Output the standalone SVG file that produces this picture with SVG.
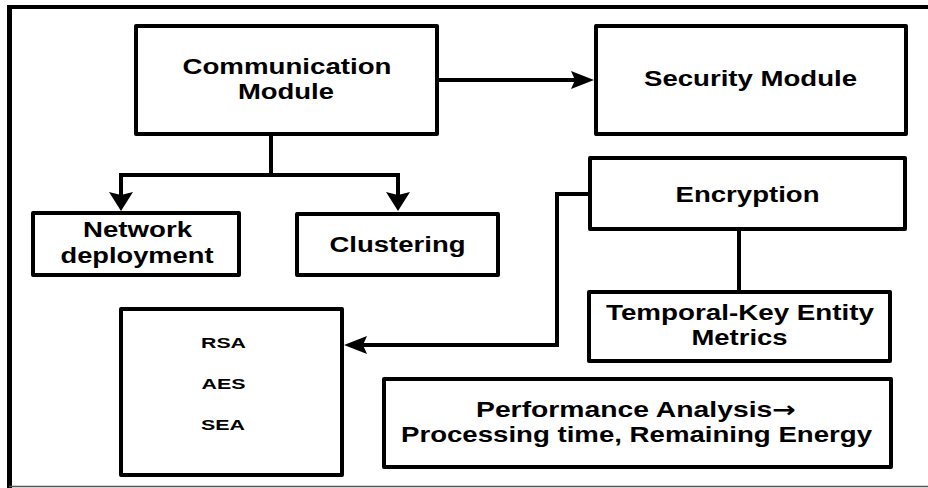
<svg xmlns="http://www.w3.org/2000/svg" width="928" height="488" viewBox="0 0 928 488">
<style>
.box{fill:#fff;stroke:#000;stroke-width:4;stroke-linejoin:round}
.t{font-family:"Liberation Sans",Arial,sans-serif;font-weight:bold;font-size:22px;fill:#000;text-anchor:middle}
.s{font-size:15px}
.ar{font-family:"DejaVu Sans",sans-serif;font-weight:bold}
.c{fill:none;stroke:#000;stroke-width:4;stroke-linejoin:miter}
</style>
<defs>
<marker id="ah" markerUnits="userSpaceOnUse" markerWidth="24" markerHeight="19" refX="4" refY="9" orient="auto" overflow="visible">
<path d="M0,0 L23,9 L0,18 L4,9 Z" fill="#000"/>
</marker>
<marker id="av" markerUnits="userSpaceOnUse" markerWidth="20" markerHeight="25" refX="3" refY="12" orient="auto" overflow="visible">
<path d="M0,0 L19,12 L0,24 L3,12 Z" fill="#000"/>
</marker>
</defs>
<rect width="928" height="488" fill="#fff"/>
<g id="frame">
<line x1="7" y1="7" x2="928" y2="7" stroke="#000" stroke-width="4"/>
<line x1="9.5" y1="5" x2="9.5" y2="488" stroke="#000" stroke-width="5"/>
<line x1="9" y1="486.5" x2="928" y2="486.5" stroke="#555" stroke-width="1.5"/>
</g>
<g id="connectors">
<line class="c" x1="439" y1="80" x2="575" y2="80" marker-end="url(#ah)"/>
<line class="c" x1="271" y1="136" x2="271" y2="175"/>
<polyline class="c" points="121,195 121,175 398,175 398,195"/>
<line class="c" x1="121" y1="177" x2="121" y2="195" marker-end="url(#av)"/>
<line class="c" x1="398" y1="177" x2="398" y2="195" marker-end="url(#av)"/>
<polyline class="c" points="588,194 557,194 557,345 363,345" marker-end="url(#ah)"/>
<line class="c" x1="739" y1="231" x2="739" y2="290"/>
</g>
<g id="communication">
<rect class="box" x="136" y="26" width="301" height="108"/>
<text class="t" x="287" y="74" textLength="209" lengthAdjust="spacingAndGlyphs">Communication</text>
<text class="t" x="286" y="99" textLength="96" lengthAdjust="spacingAndGlyphs">Module</text>
</g>
<g id="security">
<rect class="box" x="596" y="26" width="310" height="108"/>
<text class="t" x="750.5" y="86" textLength="213" lengthAdjust="spacingAndGlyphs">Security Module</text>
</g>
<g id="network">
<rect class="box" x="33" y="213" width="206" height="62"/>
<text class="t" x="137.5" y="237" textLength="109" lengthAdjust="spacingAndGlyphs">Network</text>
<text class="t" x="137" y="263" textLength="153" lengthAdjust="spacingAndGlyphs">deployment</text>
</g>
<g id="clustering">
<rect class="box" x="297" y="214" width="201" height="61"/>
<text class="t" x="397.5" y="252" textLength="136" lengthAdjust="spacingAndGlyphs">Clustering</text>
</g>
<g id="encryption">
<rect class="box" x="590" y="158" width="315" height="71"/>
<text class="t" x="747.5" y="202" textLength="144" lengthAdjust="spacingAndGlyphs">Encryption</text>
</g>
<g id="temporal">
<rect class="box" x="589" y="292" width="301" height="69"/>
<text class="t" x="740" y="320" textLength="268" lengthAdjust="spacingAndGlyphs">Temporal-Key Entity</text>
<text class="t" x="739.5" y="345" textLength="96" lengthAdjust="spacingAndGlyphs">Metrics</text>
</g>
<g id="algorithms">
<rect class="box" x="121" y="309" width="221" height="166"/>
<text class="t s" x="223.5" y="348" textLength="45" lengthAdjust="spacingAndGlyphs">RSA</text>
<text class="t s" x="223.5" y="389" textLength="44" lengthAdjust="spacingAndGlyphs">AES</text>
<text class="t s" x="223" y="430" textLength="44" lengthAdjust="spacingAndGlyphs">SEA</text>
</g>
<g id="performance">
<rect class="box" x="384" y="379" width="507" height="88"/>
<text class="t" x="636" y="417" textLength="320" lengthAdjust="spacingAndGlyphs">Performance Analysis<tspan class="ar">→</tspan></text>
<text class="t" x="636.5" y="442" textLength="471" lengthAdjust="spacingAndGlyphs">Processing time, Remaining Energy</text>
</g>
</svg>
